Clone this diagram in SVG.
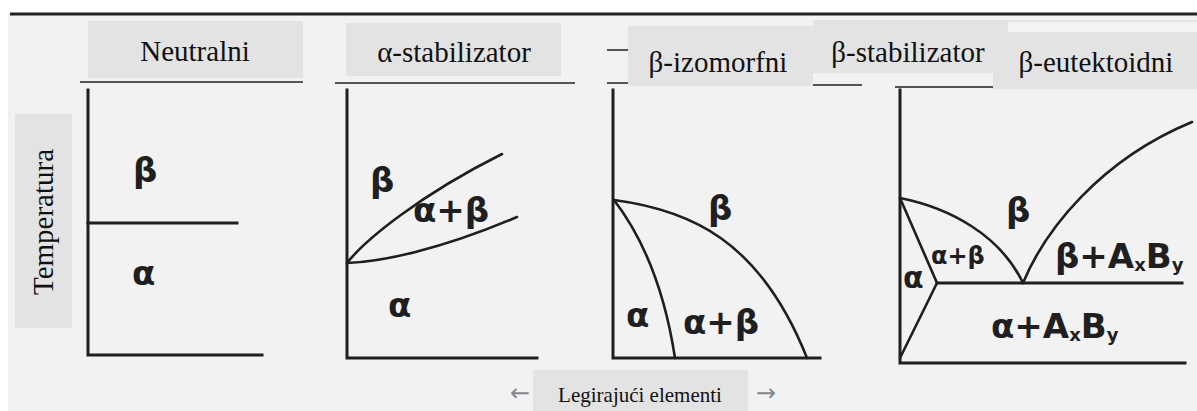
<svg xmlns="http://www.w3.org/2000/svg" width="1197" height="411" viewBox="0 0 1197 411">
<style>
.hdr{font-family:"Liberation Serif","Times New Roman",serif;font-size:29px;fill:#111;text-anchor:middle}
.box{fill:#e3e3e3}
.ax{fill:none;stroke:#1f1f1f;stroke-width:3;stroke-linecap:square}
.cv{fill:none;stroke:#1f1f1f;stroke-width:2.6;stroke-linecap:round}
.ul{stroke:#555;stroke-width:2;fill:none}
.lb{font-family:"DejaVu Sans","Liberation Sans",sans-serif;font-weight:bold;font-size:34px;fill:#1f1f1f}
.sub{font-size:18px}
.arr{font-family:"DejaVu Sans",sans-serif;font-size:24px;fill:#888;text-anchor:middle}
</style>
<rect x="0" y="0" width="1197" height="411" fill="#ffffff"/>
<rect x="8" y="13" width="1189" height="398" fill="#f2f2f2"/>
<line x1="10" y1="14" x2="1197" y2="14" stroke="#222" stroke-width="3"/>

<g id="underlines">
<path class="ul" d="M80,82 H303 M335,83 H575 M607,83 H628 M607,50 H628 M813,85 H862 M895,87 H993"/>
</g>

<g id="header-neutralni">
<rect class="box" x="88" y="21" width="215" height="57"/>
<text class="hdr" x="195" y="61">Neutralni</text>
</g>
<g id="header-alpha-stab">
<rect class="box" x="346" y="23" width="215" height="53"/>
<text class="hdr" x="454" y="62">α-stabilizator</text>
</g>
<g id="header-beta-izo">
<rect class="box" x="628" y="26" width="185" height="60"/>
<text class="hdr" x="718" y="72">β-izomorfni</text>
</g>
<g id="header-beta-stab">
<rect class="box" x="813" y="20" width="180" height="53"/>
<text class="hdr" x="908" y="62">β-stabilizator</text>
</g>
<g id="header-beta-eut">
<rect class="box" x="993" y="20" width="204" height="69"/>
<rect x="1008" y="22" width="189" height="10" fill="#f3f3f3"/>
<text class="hdr" x="1096" y="72">β-eutektoidni</text>
</g>

<g id="axis-temperatura">
<rect class="box" x="15" y="114" width="57" height="214"/>
<text class="hdr" transform="translate(53,222) rotate(-90)">Temperatura</text>
</g>

<g id="panel-neutralni">
<path class="ax" d="M88,90 V355 H262"/>
<path class="ax" d="M88,223 H237"/>
<text class="lb" x="133" y="182">β</text>
<text class="lb" x="132" y="285">α</text>
</g>

<g id="panel-alpha-stab">
<path class="ax" d="M347,90 V358 H537"/>
<path class="cv" d="M347,263 C365,240 420,195 502,154"/>
<path class="cv" d="M347,263 C380,262 440,250 517,217"/>
<text class="lb" x="370" y="192">β</text>
<text class="lb" x="413" y="222">α+β</text>
<text class="lb" x="388" y="317">α</text>
</g>

<g id="panel-beta-izo">
<path class="ax" d="M613,90 V358 H820"/>
<path class="cv" d="M614,200 C690,210 760,240 807,358"/>
<path class="cv" d="M614,200 Q660,260 675,358"/>
<text class="lb" x="708" y="220">β</text>
<text class="lb" x="626" y="327">α</text>
<text class="lb" x="683" y="334">α+β</text>
</g>

<g id="panel-beta-eut">
<path class="ax" d="M900,90 V363 H1185"/>
<path class="ax" d="M937,283 H1182"/>
<path class="cv" d="M900,198 L937,283 L900,358"/>
<path class="cv" d="M900,198 C950,208 1000,235 1023,283"/>
<path class="cv" d="M1023,283 C1045,230 1100,160 1192,122"/>
<text class="lb" x="1006" y="222">β</text>
<text class="lb" x="931" y="264" style="font-size:24px">α+β</text>
<text class="lb" x="903" y="288" style="font-size:30px">α</text>
<text class="lb" x="1055" y="268">β+A<tspan class="sub" dy="3">x</tspan><tspan dy="-3">B</tspan><tspan class="sub" dy="3">y</tspan></text>
<text class="lb" x="991" y="338">α+A<tspan class="sub" dy="3">x</tspan><tspan dy="-3">B</tspan><tspan class="sub" dy="3">y</tspan></text>
</g>

<g id="axis-legirajuci">
<rect class="box" x="533" y="370" width="215" height="41"/>
<text class="hdr" x="640" y="402" style="font-size:21px">Legirajući elementi</text>
<text class="arr" x="520" y="401">←</text>
<text class="arr" x="766" y="401">→</text>
</g>
</svg>
